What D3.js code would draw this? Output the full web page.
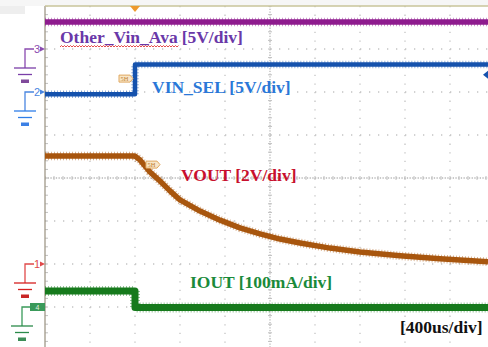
<!DOCTYPE html>
<html><head><meta charset="utf-8">
<script src="https://cdn.jsdelivr.net/npm/d3@7/dist/d3.min.js"></script>
<style>html,body{margin:0;padding:0;background:#fff;}svg{display:block;}</style>
</head><body>
<svg id="chart" width="488" height="347"></svg>
<script>
// time in microseconds (400 us/div), levels in screen divisions from centre
const timeTicks = [0,400,800,1200,1600,2000,2400,2800,3200,3600,4000];
const levelTicks = [-4,-3,-2,-1,0,1,2,3,4];
const triggerTime = 800;

const otherVinT = [0, 4000];
const otherVinV = [3.63, 3.63];

const vinSelT = [0, 800, 800, 4000];
const vinSelV = [1.95, 1.95, 2.64, 2.64];

const voutT = [0, 800, 844, 889, 933, 1022, 1111, 1200, 1378, 1556, 1733, 1911, 2089, 2267, 2533, 2800, 3156, 3511, 3938];
const voutV = [0.51, 0.51, 0.42, 0.28, 0.14, -0.07, -0.30, -0.51, -0.77, -0.98, -1.16, -1.30, -1.42, -1.51, -1.63, -1.72, -1.81, -1.88, -1.95];

const ioutT = [0, 800, 800, 4000];
const ioutV = [-2.63, -2.63, -3.01, -3.01];

const channelNames = ["Other_Vin_Ava", "[5V/div]", "VIN_SEL [5V/div]", "VOUT [2V/div]", "IOUT [100mA/div]"];
const channelMarks = ["3", "2", "1", "4"];
const channelZero = [3, 2, -2, -3];
const timebaseLabel = "[400us/div]";

const svg = d3.select("#chart");
const W = 488, H = 347;
const x = d3.scaleLinear().domain([0, 4000]).range([45, 495]);
const y = d3.scaleLinear().domain([-4, 4]).range([350, 6]);

svg.append("rect").attr("x",0).attr("y",0).attr("width",25).attr("height",14).attr("fill","#eeeeee");
svg.append("rect").attr("x",0).attr("y",0).attr("width",W).attr("height",6).attr("fill","#f6f6f6");

const plot = svg.append("g");
plot.append("clipPath").attr("id","clip").append("rect")
  .attr("x",45).attr("y",6).attr("width",W-45).attr("height",H-6);

// grid
const grid = plot.append("g").attr("clip-path","url(#clip)");
grid.selectAll("line.v").data(timeTicks.slice(1)).join("line")
  .attr("x1",d=>x(d)).attr("x2",d=>x(d)).attr("y1",y(4)).attr("y2",y(-4))
  .attr("stroke", d=> d===2000 ? "#b8b8b8" : "#c4c4c4")
  .attr("stroke-width",1.3)
  .attr("stroke-dasharray", d=> d===2000 ? "1.3,1.4" : "1.3,7.3");
grid.selectAll("line.h").data(levelTicks.slice(1,-1)).join("line")
  .attr("x1",x(0)).attr("x2",W).attr("y1",d=>y(d)).attr("y2",d=>y(d))
  .attr("stroke", d=> d===0 ? "#b8b8b8" : "#c4c4c4")
  .attr("stroke-width",1.3)
  .attr("stroke-dasharray", d=> d===0 ? "1.3,1.4" : "1.3,7.7");
const minorT = d3.range(0, 4001, 80);
grid.selectAll("line.mt").data(minorT).join("line")
  .attr("x1",d=>x(d)).attr("x2",d=>x(d)).attr("y1",y(0)-2).attr("y2",y(0)+2)
  .attr("stroke","#c0c0c0").attr("stroke-width",1);
const minorV = d3.range(-4, 4.01, 0.2);
grid.selectAll("line.mv").data(minorV).join("line")
  .attr("x1",x(2000)-2).attr("x2",x(2000)+2).attr("y1",d=>y(d)).attr("y2",d=>y(d))
  .attr("stroke","#c0c0c0").attr("stroke-width",1);
grid.selectAll("line.lv").data(minorV).join("line")
  .attr("x1",x(0)).attr("x2",x(0)+3).attr("y1",d=>y(d)).attr("y2",d=>y(d))
  .attr("stroke","#c0c0c0").attr("stroke-width",1);

// border
plot.append("line").attr("x1",x(0)).attr("x2",x(0)).attr("y1",y(4)).attr("y2",H)
  .attr("stroke","#a09888").attr("stroke-width",1.3);
plot.append("line").attr("x1",x(0)).attr("x2",W).attr("y1",y(4)).attr("y2",y(4))
  .attr("stroke","#c8c49a").attr("stroke-width",1.3);

// traces
const line = d3.line().x(d=>x(d[0])).y(d=>y(d[1]));
const traces = [
  {t: otherVinT, v: otherVinV, c: "#8e1b8e", w: 5.5},
  {t: vinSelT, v: vinSelV, c: "#1552ad", w: 4.5},
  {t: voutT, v: voutV, c: "#a8560e", w: 5.5},
  {t: ioutT, v: ioutV, c: "#167a1c", w: 7}
];
const tg = plot.append("g").attr("clip-path","url(#clip)");
traces.forEach(tr => {
  const pts = tr.t.map((t,i)=>[t, tr.v[i]]);
  tg.append("path").datum(pts).attr("d", line).attr("fill","none")
    .attr("stroke", tr.c).attr("stroke-width", tr.w + 3).attr("stroke-linejoin","round")
    .attr("stroke-dasharray","1,2").attr("opacity",0.45);
  tg.append("path").datum(pts).attr("d", line).attr("fill","none")
    .attr("stroke", tr.c).attr("stroke-width", tr.w).attr("stroke-linejoin","round");
});

// trigger marker
svg.append("path")
  .attr("d", `M${x(triggerTime)-5},6 L${x(triggerTime)+5},6 L${x(triggerTime)},12 Z`)
  .attr("fill","#ee9a2e");

function tag(tx, ty) {
  const g = svg.append("g");
  g.append("path").attr("d", `M${tx},${ty} h11 l3,3.5 l-3,3.5 h-11 Z`)
    .attr("fill","#f8e6c8").attr("stroke","#e0a860").attr("stroke-width",1);
  g.append("text").attr("x",tx+5.5).attr("y",ty+6).attr("text-anchor","middle")
    .attr("font-family","Liberation Serif").attr("font-size",6.5).attr("fill","#c08030").text("5H");
}
tag(x(triggerTime)-16, y(2.3)-4);
tag(x(triggerTime)+11, y(0.3)-4);

svg.append("path").attr("d", `M${W},${y(2.4)-4} L${W-5},${y(2.4)} L${W},${y(2.4)+4} Z`).attr("fill","#1552ad");

// channel ground markers
const markColors = ["#8a4bb0", "#4a86e0", "#e04a4a", "#3a9a5a"];
const gndColors = ["#7a3ea8", "#2f7ee8", "#d62020", "#2a8a4a"];
const barColors = ["#6a2a8a", "#1a6ae0", "#c00000", "#1a7a3a"];
channelZero.forEach((z, i) => {
  const yy = y(z);
  const g = svg.append("g");
  const gx = i===3 ? 22 : 25;
  g.append("path").attr("d", `M${i===3?30:34},${yy} H${gx} V${yy+19}`)
    .attr("fill","none").attr("stroke", markColors[i]).attr("stroke-width",1.3);
  g.append("line").attr("x1",gx-11).attr("x2",gx+11).attr("y1",yy+19).attr("y2",yy+19)
    .attr("stroke",gndColors[i]).attr("stroke-width",1.3);
  g.append("line").attr("x1",gx-7).attr("x2",gx+7).attr("y1",yy+25.5).attr("y2",yy+25.5)
    .attr("stroke",gndColors[i]).attr("stroke-width",1.3);
  g.append("rect").attr("x",gx-4).attr("y",yy+30.5).attr("width",8).attr("height",3.5)
    .attr("fill",barColors[i]).attr("opacity",0.85);
  if (i===3) {
    g.append("rect").attr("x",30).attr("y",yy-4).attr("width",15).attr("height",8).attr("fill","#3a9a5a");
    g.append("text").attr("x",37.5).attr("y",yy+3).attr("text-anchor","middle")
      .attr("font-family","Liberation Sans").attr("font-size",7).attr("fill","#e0f0e0").text(channelMarks[i]);
  } else {
    g.append("text").attr("x",40).attr("y",yy+4).attr("text-anchor","end")
      .attr("font-family","Liberation Sans").attr("font-size",11).attr("fill",markColors[i]).text(channelMarks[i]);
    g.append("path").attr("d", `M40,${yy-2.5} L45,${yy} L40,${yy+2.5}`).attr("fill",markColors[i]);
  }
});

// labels
const labelStyle = (sel, fill) => sel.attr("font-family","Liberation Serif").attr("font-weight","bold")
  .attr("font-size",17.5).attr("fill",fill);
const t0 = labelStyle(svg.append("text").attr("x",60).attr("y",43), "#6a38a8");
const t0a = t0.append("tspan").text(channelNames[0]);
t0.append("tspan").attr("dx",4).text(channelNames[1]);
labelStyle(svg.append("text").attr("x",152).attr("y",93).text(channelNames[2]), "#2a78d8");
labelStyle(svg.append("text").attr("x",181).attr("y",181).text(channelNames[3]), "#c8102e");
labelStyle(svg.append("text").attr("x",190).attr("y",288).text(channelNames[4]), "#1a8a3a");
labelStyle(svg.append("text").attr("x",400).attr("y",333).text(timebaseLabel), "#111");

// red wavy underline under first word
const uw = t0a.node().getComputedTextLength();
let wave = "M60,47";
let up = true;
for (let xx = 60; xx < 60 + uw; xx += 1.5) { wave += ` L${xx+1.5},${up?45.5:47}`; up = !up; }
svg.append("path").attr("d", wave).attr("fill","none").attr("stroke","#e02020").attr("stroke-width",0.8);
</script>
</body></html>
